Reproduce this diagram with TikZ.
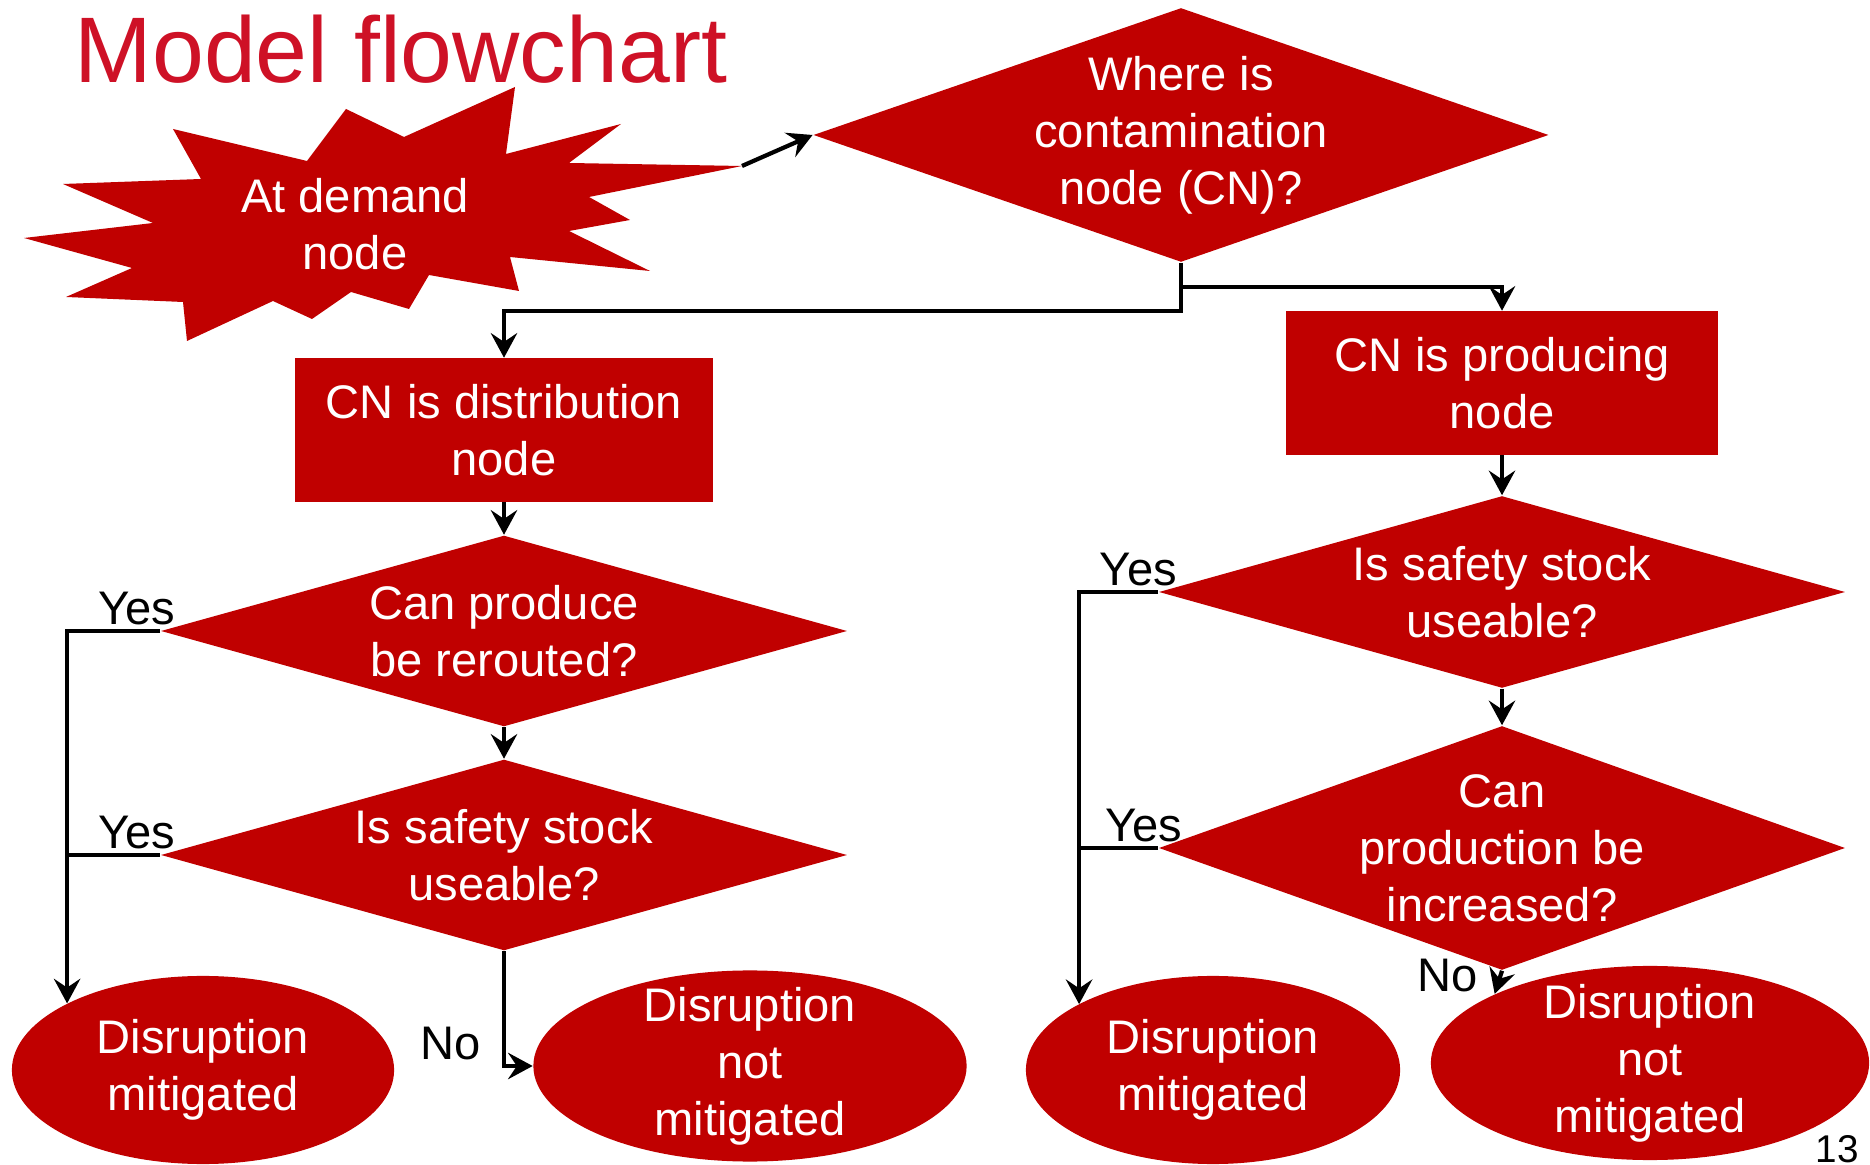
\documentclass[tikz,border=0pt]{standalone}
\usepackage{fontspec}
\setmainfont{Liberation Sans}
\usetikzlibrary{shapes.geometric,arrows.meta}
\definecolor{flowred}{HTML}{C00000}
\definecolor{titlered}{HTML}{CE1126}

\begin{document}
\begin{tikzpicture}[x=0.01cm, y=-0.01cm,
    boxtext/.style ={text=white, align=center, font=\fontsize{13.4}{16.2}\selectfont},
    decision/.style ={diamond, fill=flowred, boxtext, inner xsep=0pt, inner ysep=-3pt},
    process/.style ={rectangle, fill=flowred, boxtext, inner sep=0pt},
    outcome/.style ={ellipse, fill=flowred, boxtext, inner xsep=0pt, inner ysep=-6pt},
    answer/.style ={font=\fontsize{13.4}{16.2}\selectfont, inner sep=1pt},
    connector/.style ={line width=1.2pt, -{Stealth[length=7pt,width=7.5pt,inset=2.5pt]}}]
   \useasboundingbox (0,0) rectangle (1870,1165);
   \node[anchor=base west, inner sep=0pt, text=titlered,
     font=\fontsize{26.5}{32}\selectfont] (title) at (74,83) {Model flowchart};

   % starburst
   \fill[flowred] (515,87) -- (506,154) -- (621,124) -- (569,163) -- (742,166)
     -- (589,197) -- (630,220) -- (569,231) -- (650,271) -- (510,257) -- (519,291)
     -- (429,275) -- (409,309) -- (351,292) -- (312,319) -- (273,301) -- (187,341)
     -- (183,302) -- (66,297) -- (132,268) -- (24,238) -- (153,223) -- (63,184)
     -- (201,179) -- (173,129) -- (307,161) -- (346,109) -- (404,137) -- cycle;
   \node[boxtext] (demand) at (355,224) {At demand\\node};
   \coordinate (bursttip) at (742,166);

   \node[decision, aspect=2.89, minimum width=7.35cm, minimum height=2.54cm] (where)
     at (1181,135) {Where is\\contamination\\node (CN)?};
   \node[process, minimum width=4.18cm, minimum height=1.43cm] (distr) at (504,430)
     {CN is distribution\\node};
   \node[process, minimum width=4.31cm, minimum height=1.43cm] (prod) at (1502,383)
     {CN is producing\\node};

   % left branch
   \node[decision, aspect=3.59, minimum width=6.86cm, minimum height=1.91cm] (reroute)
     at (504,631) {Can produce\\be rerouted?};
   \node[decision, aspect=3.59, minimum width=6.86cm, minimum height=1.91cm] (stockL)
     at (504,855) {Is safety stock\\useable?};
   \node[outcome, minimum width=3.82cm, minimum height=1.88cm] (mitL) at (203,1070)
     {Disruption\\mitigated};
   \node[outcome, minimum width=4.33cm, minimum height=1.91cm] (notL) at (750,1066)
     {Disruption\\not\\mitigated};

   % right branch
   \node[decision, aspect=3.57, minimum width=6.86cm, minimum height=1.92cm] (stockR)
     at (1502,592) {Is safety stock\\useable?};
   \node[decision, aspect=2.81, minimum width=6.86cm, minimum height=2.44cm] (increase)
     at (1502,848) {Can\\production be\\increased?};
   \node[outcome, minimum width=3.74cm, minimum height=1.88cm] (mitR) at (1213,1070)
     {Disruption\\mitigated};
   \node[outcome, minimum width=4.38cm, minimum height=1.94cm] (notR) at (1650,1063)
     {Disruption\\not\\mitigated};

   \node[anchor=base, inner sep=0pt, font=\fontsize{11}{13}\selectfont] (pagenum)
     at (1837,1162) {13};

   \draw[connector] (bursttip) to (where.west);
   \draw[connector] (where.south) -- ++(0,48) -| (distr.north);
   \draw[connector] (where.south) ++(0,24) -| (prod.north);

   \draw[connector] (distr.south) to (reroute.north);
   \draw[connector] (reroute.south) to (stockL.north);
   \draw[connector] (reroute.west) -- ++(-93,0) node[answer, pos=0.25, above] (yesA) {Yes}
     coordinate (leftrail) -- (leftrail |- mitL.154);
   \draw[line width=1.2pt] (stockL.west) -- (stockL.west -| leftrail)
     node[answer, pos=0.25, above] (yesB) {Yes};
   \draw[connector] (stockL.south) |- (notL.west)
     node[answer, pos=0.4, left, inner sep=6pt] (noA) {No};

   \draw[connector] (prod.south) to (stockR.north);
   \draw[connector] (stockR.south) to (increase.north);
   \draw[connector] (stockR.west) -- ++(-79,0) node[answer, pos=0.25, above] (yesC) {Yes}
     coordinate (rightrail) -- (rightrail |- mitR.154);
   \draw[line width=1.2pt] (increase.west) -- (increase.west -| rightrail)
     node[answer, pos=0.18, above] (yesD) {Yes};
   \draw[connector] (increase.south) -- (notR.156)
     node[answer, pos=0.2, left, inner sep=6pt] (noB) {No};
 \end{tikzpicture}
\end{document}
